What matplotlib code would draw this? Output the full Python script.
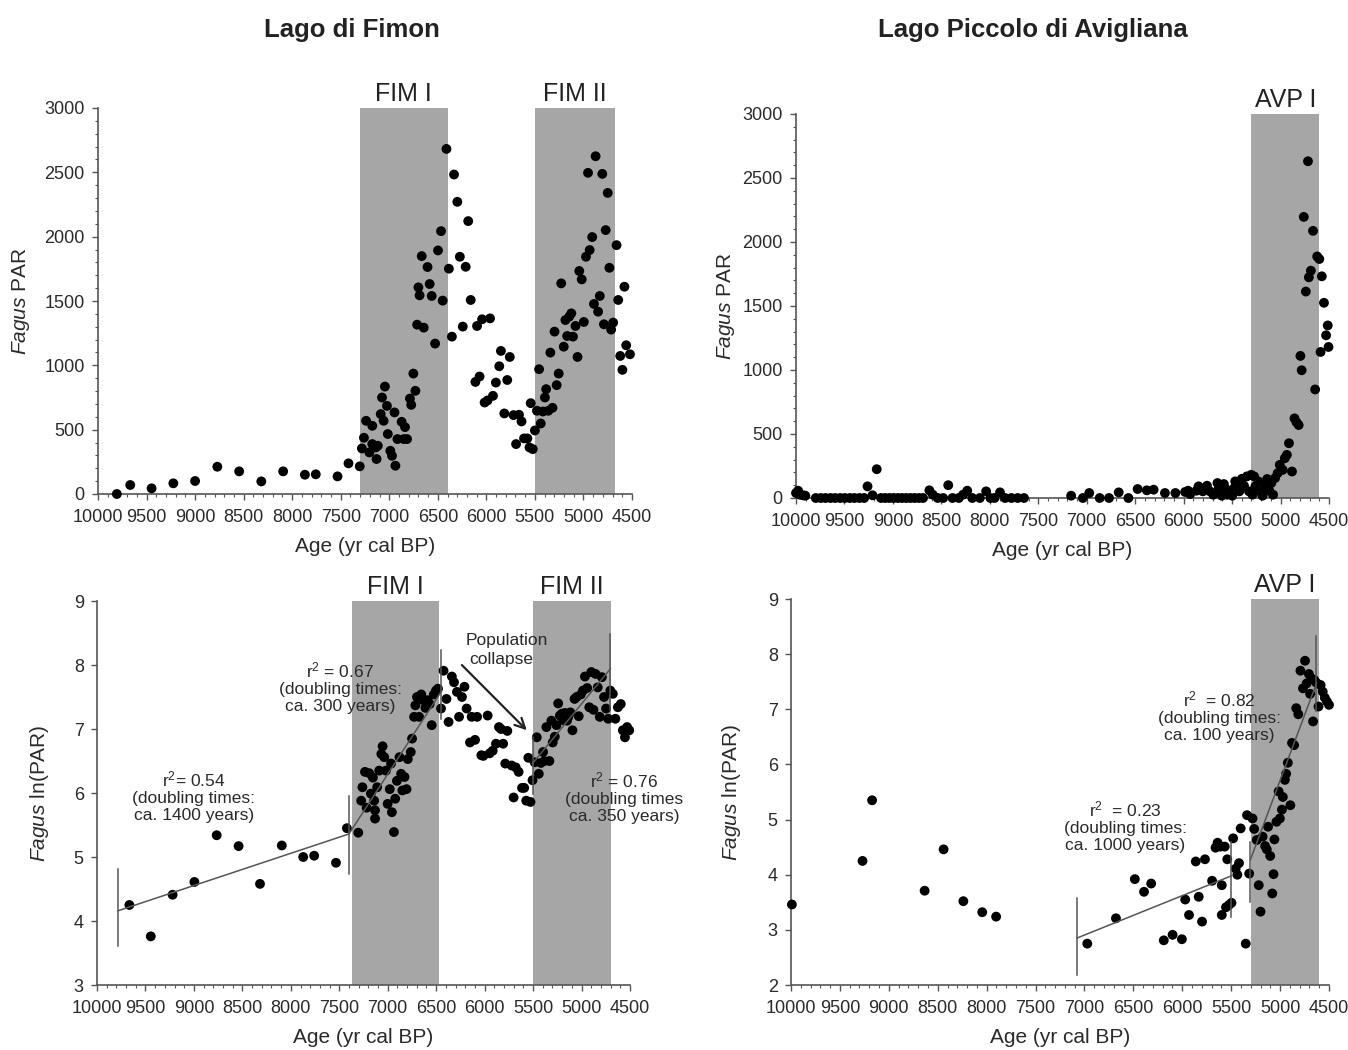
import matplotlib
matplotlib.use("Agg")
import matplotlib.pyplot as plt
import matplotlib.transforms as mtransforms
from matplotlib.ticker import MultipleLocator

plt.rcParams["font.family"] = ["Liberation Sans", "DejaVu Sans"]
plt.rcParams["mathtext.fontset"] = "custom"
plt.rcParams["mathtext.rm"] = "Liberation Sans"
plt.rcParams["mathtext.it"] = "Liberation Sans:italic"

TEXT = "#2a2a2a"
AXIS = "#555555"
SHADE = "#a6a6a6"
LINE = "#555555"

# ---- Lago di Fimon, PAR ----
fim_age = [
    9806, 9668, 9448, 9224, 9000, 8771, 8546, 8318, 8093, 7869,
    7757, 7533, 7420, 7304, 7282, 7261, 7239, 7205, 7175, 7175,
    7140, 7118, 7131, 7088, 7075, 7058, 7045, 7024, 7015, 6989,
    6972, 6946, 6937, 6916, 6873, 6851, 6838, 6817, 6787, 6774,
    6752, 6731, 6713, 6700, 6688, 6666, 6645, 6606, 6584, 6563,
    6528, 6498, 6467, 6450, 6411, 6386, 6355, 6333, 6299, 6273,
    6243, 6213, 6187, 6161, 6113, 6096, 6070, 6044, 6018, 5988,
    5962, 5932, 5902, 5867, 5850, 5815, 5785, 5759, 5720, 5694,
    5664, 5638, 5612, 5578, 5556, 5543, 5522, 5500, 5479, 5457,
    5440, 5418, 5397, 5384, 5362, 5341, 5319, 5298, 5276, 5255,
    5229, 5203, 5186, 5168, 5147, 5125, 5108, 5082, 5061, 5043,
    5018, 4996, 4974, 4953, 4936, 4910, 4892, 4875, 4849, 4832,
    4806, 4789, 4771, 4750, 4733, 4715, 4694, 4659, 4642, 4621,
    4599, 4578, 4560, 4521,
]
fim_par = [
    0, 70, 44, 83, 101, 212, 176, 98, 176, 150,
    153, 137, 238, 215, 354, 437, 569, 323, 530, 388,
    362, 375, 272, 621, 750, 569, 835, 685, 466, 336,
    297, 634, 220, 427, 561, 427, 520, 427, 742, 693,
    936, 802, 1316, 1606, 1544, 1849, 1293, 1764, 1632, 1539,
    1169, 1893, 2043, 1503, 2682, 1751, 1223, 2483, 2271, 1844,
    1301, 1766, 2121, 1508, 871, 1306, 913, 1358, 711, 727,
    1365, 763, 866, 993, 1112, 626, 886, 1065, 613, 388,
    616, 564, 432, 432, 362, 706, 349, 494, 647, 970,
    548, 641, 750, 815, 647, 1099, 670, 1262, 846, 936,
    1637, 1145, 1352, 1228, 1378, 1404, 1223, 1306, 1065, 1733,
    1668, 1337, 1844, 2496, 1896, 1997, 1477, 2625, 1417, 1539,
    2488, 1319, 2051, 2340, 1758, 1278, 1332, 1934, 1508, 1073,
    965, 1611, 1156, 1086,
]

# ---- Lago di Fimon, ln(PAR) ----
fim_ln_age = [
    9666, 9445, 9220, 8995, 8765, 8539, 8318, 8093, 7872, 7759,
    7534, 7421, 7304, 7274, 7261, 7235, 7218, 7192, 7174, 7153,
    7140, 7131, 7109, 7131, 7088, 7066, 7053, 7036, 7018, 7001,
    6979, 6966, 6957, 6936, 6923, 6905, 6879, 6862, 6849, 6827,
    6806, 6793, 6762, 6749, 6728, 6715, 6698, 6676, 6654, 6633,
    6611, 6589, 6567, 6546, 6524, 6502, 6481, 6450, 6424, 6394,
    6372, 6338, 6316, 6286, 6264, 6234, 6208, 6186, 6151, 6134,
    6099, 6078, 6034, 6013, 5969, 5948, 5917, 5883, 5852, 5831,
    5809, 5787, 5766, 5722, 5701, 5679, 5649, 5614, 5592, 5571,
    5549, 5527, 5506, 5484, 5462, 5441, 5419, 5397, 5384, 5363,
    5332, 5311, 5298, 5276, 5259, 5241, 5224, 5202, 5189, 5172,
    5150, 5137, 5116, 5094, 5072, 5051, 5029, 5007, 4985, 4965,
    4942, 4920, 4899, 4877, 4855, 4833, 4812, 4790, 4768, 4747,
    4725, 4703, 4677, 4651, 4625, 4595, 4574, 4552, 4530, 4508,
]
fim_ln = [
    4.25, 3.76, 4.41, 4.61, 5.34, 5.17, 4.58, 5.18, 5.00, 5.02,
    4.91, 5.45, 5.38, 5.88, 6.09, 6.33, 5.77, 6.31, 5.99, 6.24,
    5.88, 5.73, 6.09, 5.60, 6.35, 6.61, 6.73, 6.56, 6.35, 5.83,
    6.06, 6.46, 5.70, 5.39, 5.91, 6.19, 6.56, 6.30, 6.04, 6.25,
    6.06, 6.53, 6.64, 6.85, 7.19, 7.37, 7.50, 7.19, 7.54, 7.45,
    7.33, 7.45, 7.39, 7.06, 7.54, 7.60, 7.63, 7.32, 7.91, 7.47,
    7.11, 7.82, 7.73, 7.58, 7.19, 7.50, 7.66, 7.32, 6.79, 7.19,
    6.83, 7.19, 6.59, 6.58, 7.21, 6.62, 6.66, 6.77, 7.03, 7.00,
    6.77, 6.46, 6.97, 6.43, 5.93, 6.40, 6.33, 6.08, 6.08, 5.88,
    6.55, 5.86, 6.20, 6.48, 6.87, 6.30, 6.47, 6.64, 6.50, 7.03,
    6.50, 7.13, 6.79, 6.88, 7.06, 7.40, 7.21, 7.24, 7.14, 7.25,
    7.13, 7.19, 7.26, 6.98, 7.47, 7.50, 7.20, 7.54, 7.60, 7.82,
    7.64, 7.34, 7.89, 7.30, 7.86, 7.65, 7.19, 7.81, 7.50, 7.32,
    7.16, 7.60, 7.55, 7.16, 7.34, 7.39, 6.98, 6.87, 7.03, 6.98,
]

# ---- Lago Piccolo di Avigliana, PAR ----
avp_age = [
    10000, 9978, 9961, 9926, 9904, 9796, 9744, 9696, 9644, 9596,
    9544, 9496, 9444, 9397, 9345, 9297, 9262, 9210, 9167, 9123,
    9080, 9036, 8993, 8949, 8906, 8863, 8819, 8776, 8732, 8689,
    8624, 8589, 8537, 8481, 8429, 8385, 8320, 8276, 8233, 8181,
    8103, 8038, 7994, 7951, 7895, 7843, 7777, 7712, 7647, 7161,
    7040, 6974, 6866, 6770, 6670, 6570, 6475, 6380, 6310, 6193,
    6085, 5985, 5954, 5932, 5867, 5846, 5802, 5759, 5729, 5694,
    5651, 5638, 5620, 5607, 5585, 5564, 5551, 5529, 5498, 5477,
    5468, 5447, 5425, 5399, 5377, 5347, 5325, 5303, 5290, 5273,
    5260, 5229, 5208, 5186, 5160, 5138, 5116, 5095, 5077, 5056,
    5030, 5008, 4978, 4956, 4935, 4913, 4882, 4856, 4835, 4813,
    4795, 4782, 4760, 4739, 4717, 4708, 4687, 4665, 4643, 4622,
    4600, 4587, 4574, 4552, 4530, 4513, 4505,
]
avp_par = [
    39, 57, 26, 21, 18, 0, 0, 0, 0, 0,
    0, 0, 0, 0, 0, 0, 91, 21, 225, 0,
    0, 0, 0, 0, 0, 0, 0, 0, 0, 0,
    60, 26, 0, 0, 100, 0, 0, 26, 57, 0,
    0, 52, 0, 0, 44, 0, 0, 0, 0, 18,
    0, 39, 0, 0, 44, 0, 70, 60, 65, 39,
    39, 47, 57, 31, 57, 91, 52, 96, 52, 26,
    117, 78, 39, 18, 109, 70, 26, 52, 18, 78,
    130, 96, 52, 150, 96, 169, 52, 181, 26, 169,
    91, 130, 52, 18, 99, 148, 57, 117, 26, 156,
    194, 259, 220, 311, 337, 428, 207, 622, 591, 570,
    1110, 998, 2196, 1613, 2631, 1724, 1776, 2087, 848, 1887,
    1867, 1141, 1732, 1525, 1271, 1348, 1180,
]

# ---- Lago Piccolo di Avigliana, ln(PAR) ----
avp_ln_age = [
    9991, 9269, 9171, 8634, 8440, 8238, 8045, 7903, 6971, 6678,
    6485, 6391, 6318, 6189, 6099, 6004, 5970, 5931, 5862, 5832,
    5798, 5768, 5695, 5660, 5639, 5609, 5596, 5596, 5566, 5553,
    5540, 5523, 5497, 5480, 5454, 5437, 5420, 5403, 5351, 5338,
    5316, 5282, 5265, 5239, 5218, 5200, 5179, 5153, 5136, 5123,
    5101, 5080, 5067, 5058, 5037, 5015, 5002, 4981, 4972, 4951,
    4938, 4921, 4895, 4878, 4857, 4835, 4814, 4792, 4766, 4745,
    4728, 4706, 4693, 4680, 4663, 4650, 4628, 4607, 4586, 4564,
    4543, 4521, 4500,
]
avp_ln = [
    3.46, 4.25, 5.35, 3.71, 4.46, 3.52, 3.32, 3.24, 2.75, 3.21,
    3.92, 3.69, 3.84, 2.81, 2.91, 2.83, 3.55, 3.27, 4.24, 3.60,
    3.15, 4.28, 3.89, 4.49, 4.58, 4.51, 3.81, 3.27, 4.51, 3.41,
    4.28, 3.45, 3.49, 4.66, 4.11, 4.00, 4.21, 4.84, 2.75, 5.08,
    4.02, 5.02, 4.83, 4.63, 3.81, 3.33, 4.69, 4.52, 4.46, 4.87,
    4.34, 3.66, 4.01, 4.64, 4.96, 5.51, 5.02, 5.18, 5.41, 5.72,
    5.83, 6.03, 5.26, 6.39, 6.35, 7.02, 6.91, 7.70, 7.38, 7.88,
    7.47, 7.64, 7.28, 7.56, 6.78, 7.53, 7.48, 7.05, 7.44, 7.32,
    7.21, 7.14, 7.08,
]

# shaded zones (start, end, label)
fim_zones_top = [(7300, 6400, "FIM I"), (5500, 4680, "FIM II")]
fim_zones_bottom = [(7370, 6470, "FIM I"), (5500, 4700, "FIM II")]
avp_zones = [(5300, 4600, "AVP I")]

# regression segments and their end bars
fim_fits = [((9783, 7400), (4.16, 5.36)), ((7400, 6450), (5.36, 7.58)), ((5506, 4703), (6.46, 7.94))]
fim_bars = [(9783, 3.61, 4.81), (7400, 4.74, 5.96), (6450, 7.16, 8.23), (5506, 5.99, 6.87), (4703, 7.29, 8.49)]
avp_fits = [((7078, 5497), (2.85, 3.98)), ((5304, 4628), (4.27, 7.47))]
avp_bars = [(7078, 2.18, 3.57), (5497, 3.24, 4.60), (5304, 3.51, 4.60), (4628, 6.96, 8.32)]

W, H = 1348, 1050


def px_axes(x0, x1, ytop, ybot):
    return fig.add_axes([x0 / W, 1 - ybot / H, (x1 - x0) / W, (ybot - ytop) / H])


fig = plt.figure(figsize=(W / 100, H / 100), dpi=100)
ax_tl = px_axes(98, 632, 108, 494)
ax_tr = px_axes(796, 1329, 114, 498)
ax_bl = px_axes(97, 630, 601, 985)
ax_br = px_axes(791, 1329, 599, 985)


def style(ax, ylim, ystep, yminor, ylabel, ylab_x):
    ax.set_xlim(10000, 4500)
    ax.set_ylim(*ylim)
    for s in ("top", "right"):
        ax.spines[s].set_visible(False)
    for s in ("left", "bottom"):
        ax.spines[s].set_color(AXIS)
        ax.spines[s].set_linewidth(1.2)
    ax.xaxis.set_major_locator(MultipleLocator(500))
    ax.xaxis.set_minor_locator(MultipleLocator(100))
    ax.yaxis.set_major_locator(MultipleLocator(ystep))
    if yminor:
        ax.yaxis.set_minor_locator(MultipleLocator(yminor))
    ax.tick_params(axis="both", which="major", labelsize=13, colors=AXIS,
                   labelcolor=TEXT, length=4.5, width=1, direction="out")
    ax.tick_params(axis="both", which="minor", colors=AXIS, length=2.5,
                   width=0.8, direction="out")
    ax.tick_params(axis="x", which="major", pad=6)
    ax.tick_params(axis="y", which="major", pad=5)
    ax.set_xlabel("Age (yr cal BP)", fontsize=15, color=TEXT, labelpad=8)
    ax.set_ylabel(ylabel, fontsize=15, color=TEXT)
    ax.yaxis.set_label_coords(ylab_x, 0.5)


def zones(ax, spans):
    trans = mtransforms.blended_transform_factory(ax.transData, ax.transAxes)
    for x0, x1, lab in spans:
        ax.axvspan(x0, x1, color=SHADE, zorder=0, lw=0)
        ax.text((x0 + x1) / 2, 1.006, lab, transform=trans, ha="center",
                va="bottom", fontsize=18, color="#222222")


def note(ax, x, y, s, fs=12.5):
    ax.text(x, y, s, ha="center", va="center", fontsize=fs, color=TEXT,
            linespacing=1.15, zorder=5, clip_on=False)


dot = dict(s=50, color="black", edgecolors="none", zorder=3, clip_on=False)

# top-left
style(ax_tl, (0, 3000), 500, 100, r"$\it{Fagus}$ PAR", -0.124)
zones(ax_tl, fim_zones_top)
ax_tl.scatter(fim_age, fim_par, **dot)

# top-right
style(ax_tr, (0, 3000), 500, 100, r"$\it{Fagus}$ PAR", -0.111)
zones(ax_tr, avp_zones)
ax_tr.scatter(avp_age, avp_par, **dot)

# bottom-left
style(ax_bl, (3, 9), 1, None, r"$\it{Fagus}$ ln(PAR)", -0.086)
zones(ax_bl, fim_zones_bottom)
ax_bl.scatter(fim_ln_age, fim_ln, **dot)
for xs, ys in fim_fits:
    ax_bl.plot(xs, ys, color=LINE, lw=1.1, zorder=4)
for x, y0, y1 in fim_bars:
    ax_bl.plot([x, x], [y0, y1], color=LINE, lw=1.1, zorder=4)
note(ax_bl, 9000, 5.95, "r$^2$= 0.54\n(doubling times:\nca. 1400 years)")
note(ax_bl, 7490, 7.66, "r$^2$ = 0.67\n(doubling times:\nca. 300 years)")
note(ax_bl, 4560, 5.93, "r$^2$ = 0.76\n(doubling times\nca. 350 years)")
ax_bl.text(5775, 8.38, "Population", ha="center", va="center",
           fontsize=12.5, color=TEXT, zorder=5)
ax_bl.text(5830, 8.08, "collapse", ha="center", va="center",
           fontsize=12.5, color=TEXT, zorder=5)
ax_bl.annotate("", xy=(5545, 6.95), xytext=(6255, 8.03),
               arrowprops=dict(arrowstyle="->", color="#222222", lw=1.6,
                               mutation_scale=18))

# bottom-right
style(ax_br, (2, 9), 1, None, r"$\it{Fagus}$ ln(PAR)", -0.089)
zones(ax_br, avp_zones)
ax_br.scatter(avp_ln_age, avp_ln, **dot)
for xs, ys in avp_fits:
    ax_br.plot(xs, ys, color=LINE, lw=1.1, zorder=4)
for x, y0, y1 in avp_bars:
    ax_br.plot([x, x], [y0, y1], color=LINE, lw=1.1, zorder=4)
note(ax_br, 5620, 6.87, "r$^2$  = 0.82\n(doubling times:\nca. 100 years)")
note(ax_br, 6580, 4.88, "r$^2$  = 0.23\n(doubling times:\nca. 1000 years)")

fig.text(352 / W, 1 - 30 / H, "Lago di Fimon", ha="center", va="center",
         fontsize=18.5, fontweight="bold", color="#222222")
fig.text(1033 / W, 1 - 30 / H, "Lago Piccolo di Avigliana", ha="center",
         va="center", fontsize=18.5, fontweight="bold", color="#222222")

fig.savefig("out.png", dpi=100)
